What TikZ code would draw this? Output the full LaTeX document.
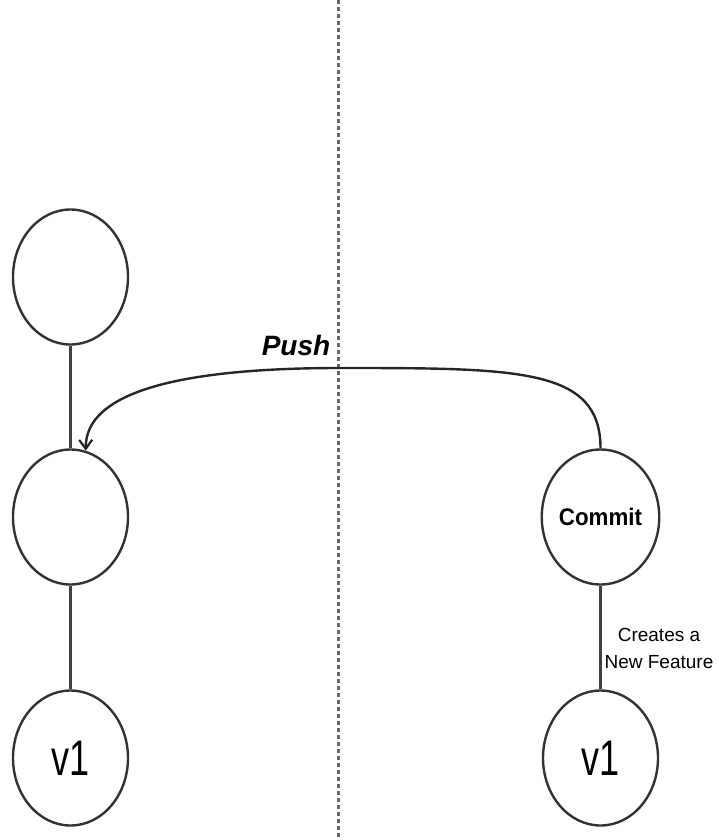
\documentclass[tikz,border=0pt]{standalone}
\usepackage{fontspec}
\usepackage{graphicx}
\setmainfont{Liberation Sans}
\usetikzlibrary{shapes.geometric,arrows.meta}

\tikzset{
  commitnode/.style={ellipse, draw=black!80, line width=2.4pt, fill=white,
    minimum width=115pt, minimum height=135pt, inner sep=0pt},
  link/.style={draw=black!75, line width=2.4pt},
  pusharrow/.style={draw=black!85, line width=2.4pt,
    -{Straight Barb[length=9pt,width=13pt,line width=2.2pt]}},
  divider/.style={draw=black!60, line width=3pt, dash pattern=on 4pt off 3pt},
}

\begin{document}
\begin{tikzpicture}[x=1pt,y=-1pt]
  \useasboundingbox (0,0) rectangle (718,840);

  % separator between the two repositories
  \coordinate (divtop) at (338,0);
  \coordinate (divbot) at (338,840);
  \draw[divider] (divtop) -- (divbot);

  % left history
  \node[commitnode] (ltop) at (70.5,277) {};
  \node[commitnode] (lmid) at (70.5,517) {};
  \node[commitnode] (lv1)  at (70.5,758) {\fontsize{50}{56}\selectfont\scalebox{0.72}[1]{v1}};

  % right history
  \node[commitnode] (rcommit) at (600.5,517) {\fontsize{24}{28}\selectfont\bfseries\scalebox{0.93}[1]{Commit}};
  \node[commitnode] (rv1)     at (600.5,758) {\fontsize{50}{56}\selectfont\scalebox{0.72}[1]{v1}};

  % parent links
  \draw[link] (ltop.south) -- (lmid.north);
  \draw[link] (lmid.south) -- (lv1.north);
  \draw[link] (rcommit.south) -- (rv1.north);

  \node[align=center, inner sep=0pt, font=\fontsize{19}{27}\selectfont] (feat) at (659,648)
    {Creates a\\New Feature};

  % push from right to left
  \coordinate (pushmid) at (340,368);
  \draw[pusharrow] (rcommit.north) .. controls +(0,-80) and (520,368) .. (pushmid)
    .. controls (180,368) and (85,392) .. (lmid.77);
  \node[inner sep=0pt] (pushlbl) at (296,345)
    {\fontsize{28}{32}\selectfont\bfseries\itshape Push};
\end{tikzpicture}
\end{document}
